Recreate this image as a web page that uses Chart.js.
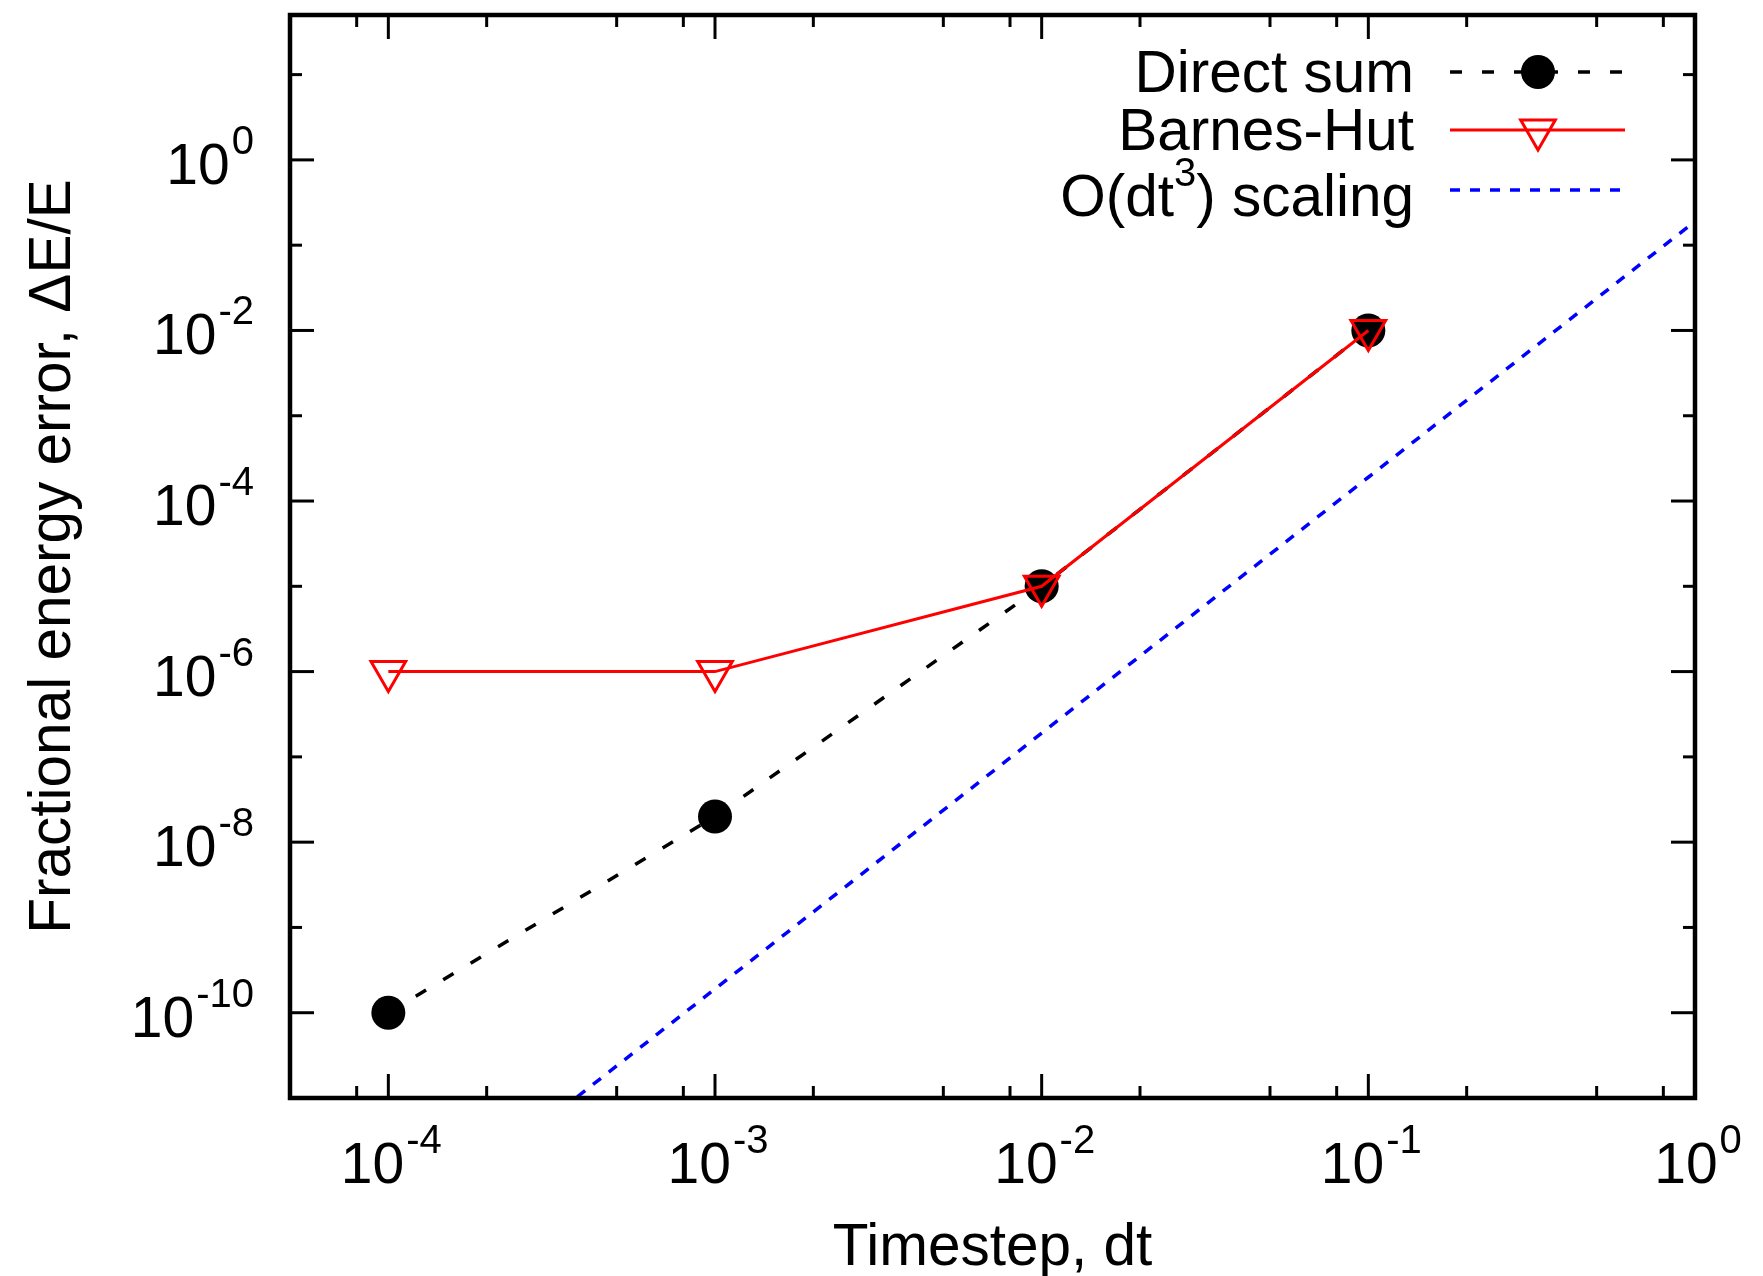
<!DOCTYPE html>
<html>
<head>
<meta charset="utf-8">
<script src="https://cdn.jsdelivr.net/npm/chart.js"></script>
<style>
	html, body { margin: 0; padding: 0; background: #fff; }
	#wrap { width: 1763px; height: 1276px; }
</style>
</head>
<body>
<div id="wrap"><canvas id="chart" width="1763" height="1276"></canvas></div>
<script>
// ---- data ----
const timesteps = [1e-4, 1e-3, 1e-2, 1e-1];
const directSum = [1e-10, 2e-8, 1e-5, 1e-2];
const barnesHut = [1e-6, 1e-6, 1e-5, 1e-2];
const scalingDt = [1e-4, 1e-3, 1e-2, 1e-1, 1];
const scalingErr = [1.9e-13, 1.9e-10, 1.9e-7, 1.9e-4, 0.19];

const xMajorTicks = [1e-4, 1e-3, 1e-2, 1e-1, 1];
const xTickExps = ['-4', '-3', '-2', '-1', '0'];
const xMinorTicks = [8e-5, 2e-4, 5e-4, 8e-4, 2e-3, 5e-3, 8e-3, 2e-2, 5e-2, 8e-2, 2e-1, 5e-1, 8e-1];
const yMajorTicks = [1, 1e-2, 1e-4, 1e-6, 1e-8, 1e-10];
const yTickExps = ['0', '-2', '-4', '-6', '-8', '-10'];
const yMinorTicks = [10, 1e-1, 1e-3, 1e-5, 1e-7, 1e-9];

const legendLabels = ['Direct sum', 'Barnes-Hut', 'O(dt|3|) scaling'];

const FontFamily = '"Liberation Sans", Arial, Helvetica, sans-serif';
const TickFont = 57, SupFont = 40, TextFont = 58.5;

const BlackDash = [12, 20];
const BlueDash = [10, 10];

const toPoints = (xs, ys) => xs.map((x, i) => ({ x: x, y: ys[i] }));

/**
 * draws "base" followed by a raised exponent
 */
const drawPower = (ctx, x, baseline, base, exp, align) => {
	ctx.font = `${TickFont}px ${FontFamily}`;
	const wBase = ctx.measureText(base).width;
	ctx.font = `${SupFont}px ${FontFamily}`;
	const wExp = ctx.measureText(exp).width;
	const gap = 2;
	const total = wBase + gap + wExp;
	let left = x;
	if (align === 'right') left = x - total;
	else if (align === 'center') left = x - total / 2;
	ctx.textAlign = 'left';
	ctx.textBaseline = 'alphabetic';
	ctx.font = `${TickFont}px ${FontFamily}`;
	ctx.fillText(base, left, baseline);
	ctx.font = `${SupFont}px ${FontFamily}`;
	ctx.fillText(exp, left + wBase + gap, baseline - 30);
};

// text with |sup| segments, right aligned at x
const drawRichRight = (ctx, x, baseline, text) => {
	const parts = text.split('|').map((t, i) => ({ t: t, sup: i % 2 === 1 }));
	const widths = parts.map(p => {
		ctx.font = `${p.sup ? SupFont : TextFont}px ${FontFamily}`;
		return ctx.measureText(p.t).width;
	});
	let cx = x - widths.reduce((a, b) => a + b, 0);
	ctx.textAlign = 'left';
	ctx.textBaseline = 'alphabetic';
	parts.forEach((p, i) => {
		ctx.font = `${p.sup ? SupFont : TextFont}px ${FontFamily}`;
		ctx.fillText(p.t, cx, p.sup ? baseline - 30 : baseline);
		cx += widths[i];
	});
};

const drawTriangleDown = (ctx, x, y, r) => {
	let rad = Math.PI;
	ctx.beginPath();
	for (let k = 0; k < 3; k++) {
		const px = x + Math.sin(rad) * r, py = y - Math.cos(rad) * r;
		if (k === 0) ctx.moveTo(px, py); else ctx.lineTo(px, py);
		rad += 2 * Math.PI / 3;
	}
	ctx.closePath();
	ctx.stroke();
};

const framePlugin = {
	id: 'gnuplotFrame',
	afterDraw(chart) {
		const ctx = chart.ctx;
		const { left, right, top, bottom } = chart.chartArea;
		const xs = chart.scales.x, ys = chart.scales.y;
		ctx.save();
		ctx.strokeStyle = '#000';
		ctx.fillStyle = '#000';

		// ticks, inward on all four sides
		ctx.lineWidth = 3;
		ctx.lineCap = 'butt';
		const seg = (x1, y1, x2, y2) => { ctx.beginPath(); ctx.moveTo(x1, y1); ctx.lineTo(x2, y2); ctx.stroke(); };
		xMajorTicks.forEach(v => { const px = xs.getPixelForValue(v); seg(px, bottom, px, bottom - 24); seg(px, top, px, top + 24); });
		xMinorTicks.forEach(v => { const px = xs.getPixelForValue(v); seg(px, bottom, px, bottom - 12); seg(px, top, px, top + 12); });
		yMajorTicks.forEach(v => { const py = ys.getPixelForValue(v); seg(left, py, left + 24, py); seg(right, py, right - 24, py); });
		yMinorTicks.forEach(v => { const py = ys.getPixelForValue(v); seg(left, py, left + 12, py); seg(right, py, right - 12, py); });

		// border
		ctx.lineWidth = 4.5;
		ctx.strokeRect(left, top, right - left, bottom - top);

		// tick labels
		xMajorTicks.forEach((v, i) => drawPower(ctx, xs.getPixelForValue(v) + 3, 1183, '10', xTickExps[i], 'center'));
		yMajorTicks.forEach((v, i) => drawPower(ctx, 254, ys.getPixelForValue(v) + 24, '10', yTickExps[i], 'right'));

		// axis titles
		ctx.font = `${TextFont}px ${FontFamily}`;
		ctx.textAlign = 'center';
		ctx.textBaseline = 'alphabetic';
		ctx.fillText('Timestep, dt', (left + right) / 2, 1265);
		ctx.save();
		ctx.translate(70, (top + bottom) / 2);
		ctx.rotate(-Math.PI / 2);
		ctx.fillText('Fractional energy error, \u0394E/E', 0, 0);
		ctx.restore();

		// legend
		const rowY = [72, 130, 190];
		const textBase = [92, 150, 216];
		const lineX1 = 1450, lineX2 = 1625, markX = 1538, textX = 1414;
		legendLabels.forEach((label, i) => {
			ctx.fillStyle = '#000';
			drawRichRight(ctx, textX, textBase[i], label);
		});
		// direct sum sample
		ctx.lineWidth = 3.5;
		ctx.strokeStyle = '#000';
		ctx.setLineDash(BlackDash);
		seg(lineX1, rowY[0], lineX2, rowY[0]);
		ctx.setLineDash([]);
		ctx.beginPath();
		ctx.arc(markX, rowY[0], 17, 0, Math.PI * 2);
		ctx.fill();
		// barnes-hut sample
		ctx.lineWidth = 3;
		ctx.strokeStyle = '#ff0000';
		seg(lineX1, rowY[1], lineX2, rowY[1]);
		drawTriangleDown(ctx, markX, rowY[1], 20);
		// scaling sample
		ctx.lineWidth = 3.5;
		ctx.strokeStyle = '#0000ff';
		ctx.setLineDash(BlueDash);
		seg(lineX1, rowY[2], lineX2, rowY[2]);
		ctx.restore();
	}
};

new Chart(document.getElementById('chart').getContext('2d'), {
	type: 'line',
	data: {
		datasets: [
			{
				label: 'O(dt^3) scaling',
				data: toPoints(scalingDt, scalingErr),
				borderColor: '#0000ff',
				borderWidth: 3.5,
				borderDash: BlueDash,
				pointRadius: 0,
				tension: 0,
				order: 1
			},
			{
				label: 'Barnes-Hut',
				data: toPoints(timesteps, barnesHut),
				borderColor: '#ff0000',
				borderWidth: 3,
				pointStyle: 'triangle',
				rotation: 180,
				pointRadius: 20,
				pointBorderWidth: 3,
				pointBorderColor: '#ff0000',
				pointBackgroundColor: 'rgba(0,0,0,0)',
				tension: 0,
				order: 2
			},
			{
				label: 'Direct sum',
				data: toPoints(timesteps, directSum),
				borderColor: '#000',
				borderWidth: 3.5,
				borderDash: BlackDash,
				pointStyle: 'circle',
				pointRadius: 17,
				pointBorderWidth: 0,
				pointBackgroundColor: '#000',
				tension: 0,
				order: 3
			}
		]
	},
	options: {
		responsive: false,
		devicePixelRatio: 1,
		animation: false,
		layout: { autoPadding: false, padding: { top: 15, right: 68, left: 0, bottom: 0 } },
		plugins: { legend: { display: false }, tooltip: { enabled: false } },
		scales: {
			x: {
				type: 'logarithmic',
				min: 5e-5,
				max: 1,
				ticks: { display: false },
				grid: { display: false },
				border: { display: false },
				afterFit: s => { s.height = 178; }
			},
			y: {
				type: 'logarithmic',
				min: 1e-11,
				max: 50,
				ticks: { display: false },
				grid: { display: false },
				border: { display: false },
				afterFit: s => { s.width = 290; }
			}
		}
	},
	plugins: [framePlugin]
});
</script>
</body>
</html>
